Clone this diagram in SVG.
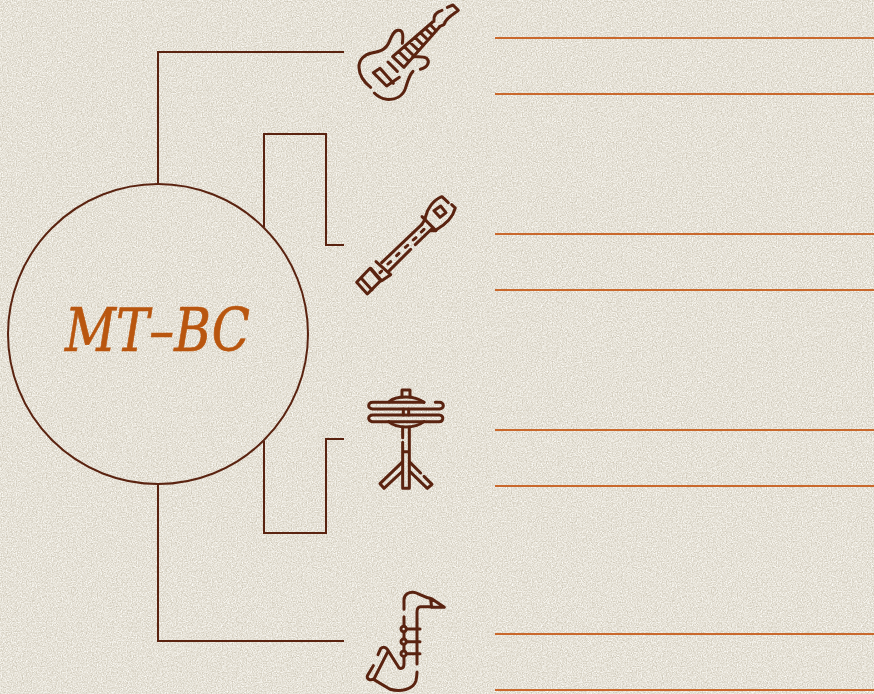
<svg xmlns="http://www.w3.org/2000/svg" width="874" height="694" viewBox="0 0 874 694">
<style>
.c{fill:none;stroke:#5a2310;stroke-width:2}
.i{fill:none;stroke:#5a2310;stroke-width:9;stroke-linecap:round;stroke-linejoin:round}
.l{fill:none;stroke:#c9682c;stroke-width:2}
.t{font-family:"DejaVu Serif Condensed","DejaVu Serif",serif;font-style:italic;font-size:60px;fill:#b9560f;stroke:#b9560f;stroke-width:.7}
</style>
<defs>
<filter id="n" x="0" y="0" width="100%" height="100%"><feTurbulence type="fractalNoise" baseFrequency="0.8" numOctaves="2" seed="4"/><feColorMatrix type="matrix" values="0 0 0 0 1  0 0 0 0 1  0 0 0 0 .97  2 0 0 0 -0.72"/></filter>
<filter id="m" x="0" y="0" width="100%" height="100%"><feTurbulence type="fractalNoise" baseFrequency="0.8" numOctaves="2" seed="9"/><feColorMatrix type="matrix" values="0 0 0 0 0.5  0 0 0 0 0.46  0 0 0 0 0.36  1.5 0 0 0 -0.6"/></filter>
</defs>
<g id="background">
<rect width="874" height="694" fill="#e7e2d7"/>
<rect width="874" height="694" filter="url(#n)"/>
<rect width="874" height="694" filter="url(#m)"/>
</g>
<g id="connectors">
<path class="c" d="M158 184V52H344"/>
<path class="c" d="M264 227V134H326V245H344"/>
<path class="c" d="M264 441V533H326V439H344"/>
<path class="c" d="M158 484V641H344"/>
</g>
<g id="hub">
<circle class="c" cx="158" cy="334" r="150"/>
<text class="t" x="65" y="351" textLength="185" lengthAdjust="spacingAndGlyphs">MT–BC</text>
</g>
<g id="guitar" transform="translate(340 0) scale(.3333)">
<path class="i" d="M92 262C70 245 58 225 57 203C56 180 72 164 95 159C120 154 138 150 148 125C156 105 162 92 175 91C190 90 190 108 187 130"/>
<path class="i" d="M218 171C235 170 250 168 260 175C270 184 265 202 241 208"/>
<path class="i" d="M219 214C208 225 204 240 198 260C190 290 165 300 140 298C125 296 112 288 103 279"/>
<path class="i" d="M158 170L278 66M192 202L298 82M158 170L192 202M176 155L207 185M193 140L222 168M209 126L236 152M225 112L250 136M241 98L264 120M256 85L277 105M270 73L288 92"/>
<path class="i" d="M282 64C280 48 288 36 306 31M298 80L312 74C316 58 330 50 355 31L339 15L322 22"/>
<path class="i" d="M144 186L172 214M178 232L140 258L100 218L120 205L160 250"/>
</g>
<g id="flute" transform="translate(340 190) scale(.3333)">
<path class="i" d="M50 277L82 312L122 272L90 235Z"/>
<path class="i" d="M64 265L96 300"/>
<path class="i" d="M108 215L152 254L125 272L92 235"/>
<path class="i" d="M125 218L245 104M148 242L212 178M226 164L278 114"/>
<path class="i" d="M144 222L152 215M170 197L177 190M196 172L203 166M220 150L228 143M244 126L252 118M120 248L125 243"/>
<path class="i" d="M246 80L288 122L272 122M245 104L256 86"/>
<path class="i" d="M256 82C262 55 280 30 306 20L325 38M335 44L346 54C338 85 315 105 288 120"/>
<path class="i" d="M282 62L302 48L318 68L300 82Z"/>
</g>
<g id="cymbal" transform="translate(350 385) scale(.3333)">
<path class="i" d="M156 36V15H180V36"/>
<path class="i" d="M118 50C130 38 148 36 168 36C190 36 208 42 222 52"/>
<path class="i" d="M222 52H68C52 52 52 72 68 72H268C284 72 284 52 268 52H256"/>
<path class="i" d="M160 72V90M176 72V90"/>
<path class="i" d="M68 90H268C282 90 282 110 268 110H68C52 110 52 90 68 90Z"/>
<path class="i" d="M116 110C130 122 148 126 168 126C188 126 206 122 222 110"/>
<path class="i" d="M158 126V158M178 126V310M158 172V310H178M158 200H178"/>
<path class="i" d="M156 232L90 296L102 310L158 258"/>
<path class="i" d="M180 232L212 264M222 274L246 298L232 310L180 260"/>
</g>
<g id="saxophone" transform="translate(350 584) scale(.3333)">
<path class="i" d="M162 76V48C162 30 178 24 190 25C205 26 215 38 245 44L283 70H245L242 46"/>
<path class="i" d="M245 68H212C204 68 201 74 201 84V240"/>
<path class="i" d="M162 98V126M162 144V164M162 182V200M162 218V240C162 254 152 256 146 250L112 196C106 188 98 188 92 194L84 212M70 245L52 275C50 286 60 290 72 285L112 206"/>
<path class="i" d="M72 287L120 316C150 324 190 318 198 290C200 280 201 272 201 264"/>
<circle class="i" cx="161" cy="135" r="8"/><circle class="i" cx="161" cy="173" r="8"/><circle class="i" cx="161" cy="209" r="8"/>
<path class="i" d="M169 135H210M169 173H210M169 209H210"/>
</g>
<g id="lines">
<path class="l" d="M495 38H874M495 94H874M495 234H874M495 290H874M495 430H874M495 486H874M495 634H874M495 690H874"/>
</g>
</svg>
